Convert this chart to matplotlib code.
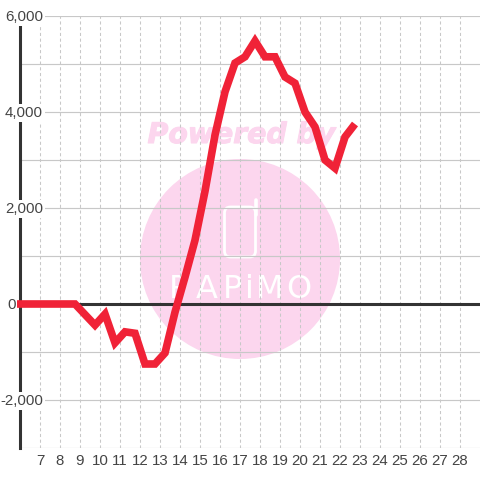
import matplotlib
matplotlib.use('Agg')
import matplotlib.pyplot as plt
import matplotlib.patheffects as pe
from matplotlib.lines import Line2D
from matplotlib.patches import Circle, FancyBboxPatch

# half hourly values
hours = [5.85, 6.75, 7.75, 8.75, 9.25, 9.75, 10.25, 10.75, 11.25, 11.75, 12.25, 12.75, 13.25,
         13.75, 14.25, 14.75, 15.25, 15.75, 16.25, 16.75, 17.25, 17.75, 18.25, 18.75, 19.25,
         19.75, 20.25, 20.75, 21.25, 21.75, 22.25, 22.75]
values = [0, 0, 0, 0, -220, -440, -210, -810, -580, -610, -1250, -1250, -1020,
          -170, 560, 1330, 2350, 3520, 4420, 5020, 5150, 5480, 5150, 5150, 4730,
          4600, 4000, 3690, 3000, 2830, 3480, 3750]
y_labels = [-2000, 0, 2000, 4000, 6000]
x_labels = list(range(7, 29))

plt.rcParams['font.family'] = ['Liberation Sans', 'DejaVu Sans']

fig = plt.figure(figsize=(4.8, 4.8), dpi=100)
ax = fig.add_axes([20 / 480, 32 / 480, 460 / 480, 432 / 480])
ax.set_xlim(6, 29)
ax.set_ylim(-3000, 6000)
ax.patch.set_visible(False)

def P(x, y):
    return x / 480, 1 - y / 480

# watermark sits behind everything, in pixel coords
pink = '#fcd6ee'
fig.add_artist(Circle((240, 480 - 259), 100, transform=None, fc=pink, ec='none', zorder=-5))
fig.add_artist(FancyBboxPatch((224.5, 480 - 257), 31, 50, boxstyle='round,pad=0,rounding_size=6',
                              transform=None, fc='none', ec='white', lw=2, zorder=-4))
fig.add_artist(Line2D([255.5, 255.5], [480 - 215, 480 - 200], transform=None, color='white',
                      lw=2.6, solid_capstyle='round', zorder=-4))
fig.text(*P(241.5, 135), 'Powered by', color=pink, fontsize=20.4, fontweight='bold', fontstyle='italic',
         family=['DejaVu Sans'], ha='center', va='center', zorder=-4,
         path_effects=[pe.withStroke(linewidth=0.8, foreground=pink)])
for x, ch in zip([179, 207, 233, 249, 270, 299], 'PAPiMO'):
    fig.text(*P(x, 290), ch, color='white', fontsize=23, family=['DejaVu Sans'],
             ha='center', va='center', zorder=-4)

ax.set_yticks(range(-3000, 7000, 1000))
ax.set_xticks(x_labels)
ax.grid(axis='y', color='#c8c8c8', lw=0.85)
ax.grid(axis='x', color='#c8c8c8', lw=0.75, ls=(0, (3, 2.5)))
ax.set_axisbelow(True)
for s in ['top', 'right', 'bottom']:
    ax.spines[s].set_visible(False)
ax.spines['left'].set_linewidth(2.2)
ax.spines['left'].set_color('#333333')
ax.axhline(0, color='#333333', lw=2.2, zorder=2)

ax.set_xticklabels([str(x) for x in x_labels])
ax.set_yticklabels([])
ax.tick_params(length=0, labelsize=10.8, labelcolor='#444444', pad=4.5)

# y labels sit on top of the axis line with a white box behind them
for v in y_labels:
    right = 16 if v == 0 else 43
    ax.annotate(f'{v:,}', xy=(0, v), xycoords=ax.get_yaxis_transform(), xytext=(right - 20, -1),
                textcoords='offset pixels', ha='right', va='center', fontsize=10.8, color='#444444',
                annotation_clip=False, zorder=4,
                bbox=dict(fc='white', ec='none', pad=1.2))

ax.plot(hours, values, color='#f02237', lw=5.5, solid_joinstyle='miter', solid_capstyle='butt',
        clip_on=False, zorder=5)

fig.savefig('out.png', dpi=100)
